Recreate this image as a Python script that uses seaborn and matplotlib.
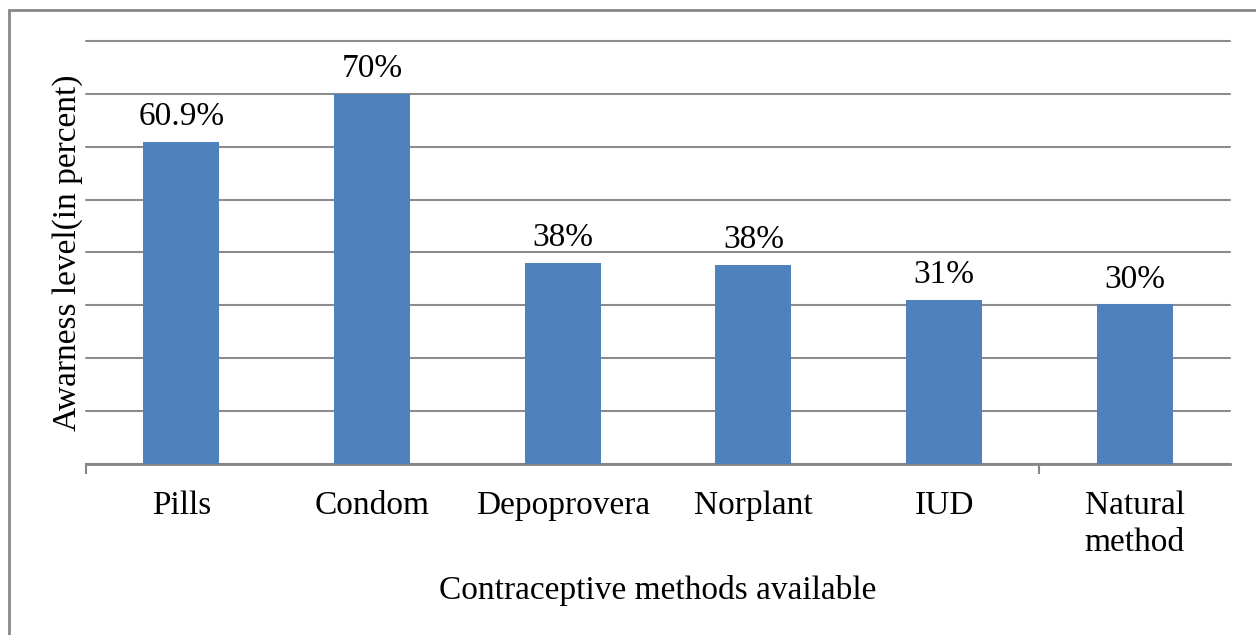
import matplotlib
matplotlib.use("Agg")
import matplotlib.pyplot as plt
import seaborn as sns
import pandas as pd
from matplotlib.patches import Rectangle

categories = ["Pills", "Condom", "Depoprovera", "Norplant", "IUD", "Natural\nmethod"]
values = [60.9, 70, 38, 37.7, 31, 30.2]
labels = ["60.9%", "70%", "38%", "38%", "31%", "30%"]

sns.set_theme(style="white")
plt.rcParams['font.family'] = ['Liberation Serif', 'DejaVu Serif']
plt.rcParams['text.color'] = 'black'
plt.rcParams['axes.labelcolor'] = 'black'
plt.rcParams['xtick.color'] = 'black'

df = pd.DataFrame({"method": categories, "value": values})

fig = plt.figure(figsize=(12.56, 6.35), dpi=100)
ax = fig.add_axes([86/1256, 1 - 464/635, (1230 - 86)/1256, (464 - 41)/635])

sns.barplot(data=df, x="method", y="value", color="#4F81BD", width=0.4,
            saturation=1, ax=ax, zorder=3)
for p in ax.patches:
    p.set_edgecolor("none")

ax.set_ylim(0, 80)
ax.set_xlim(-0.5, len(categories) - 0.5)
ax.set_yticks(range(0, 81, 10))
ax.set_yticklabels([])
ax.tick_params(axis="y", length=0)
ax.yaxis.grid(True, color="#8C8C8C", linewidth=1.5, zorder=0)
for gl in ax.get_ygridlines():
    gl.set_clip_on(False)
ax.set_axisbelow(True)

for s in ["left", "right", "top"]:
    ax.spines[s].set_visible(False)
ax.spines["bottom"].set_color("#868686")
ax.spines["bottom"].set_linewidth(2)

ax.set_xticks(range(len(categories)))
ax.set_xticklabels(categories, fontsize=24, linespacing=1.3)
ax.tick_params(axis="x", which="major", bottom=False, length=0, pad=19, labelcolor="black")
ax.set_xticks([-0.5, 4.5], minor=True)
ax.tick_params(axis="x", which="minor", bottom=True, length=7, width=1.5,
               color="#868686", direction="out")

for i, (v, lab) in enumerate(zip(values, labels)):
    ax.annotate(lab, (i, v), xytext=(0, 7), textcoords="offset points",
                ha="center", va="bottom", fontsize=24, color="black")

ax.set_xlabel("Contraceptive methods available", fontsize=24, labelpad=12, color="black")
ax.set_ylabel("Awarness level(in percent)", fontsize=24, labelpad=-1, color="black")

fig.patches.append(Rectangle((9/1256, -0.1), 1.2, 1 - 10/635 + 0.1,
                             transform=fig.transFigure, fill=False,
                             edgecolor="#878787", linewidth=2, zorder=0))

fig.savefig("out.png", dpi=100)
